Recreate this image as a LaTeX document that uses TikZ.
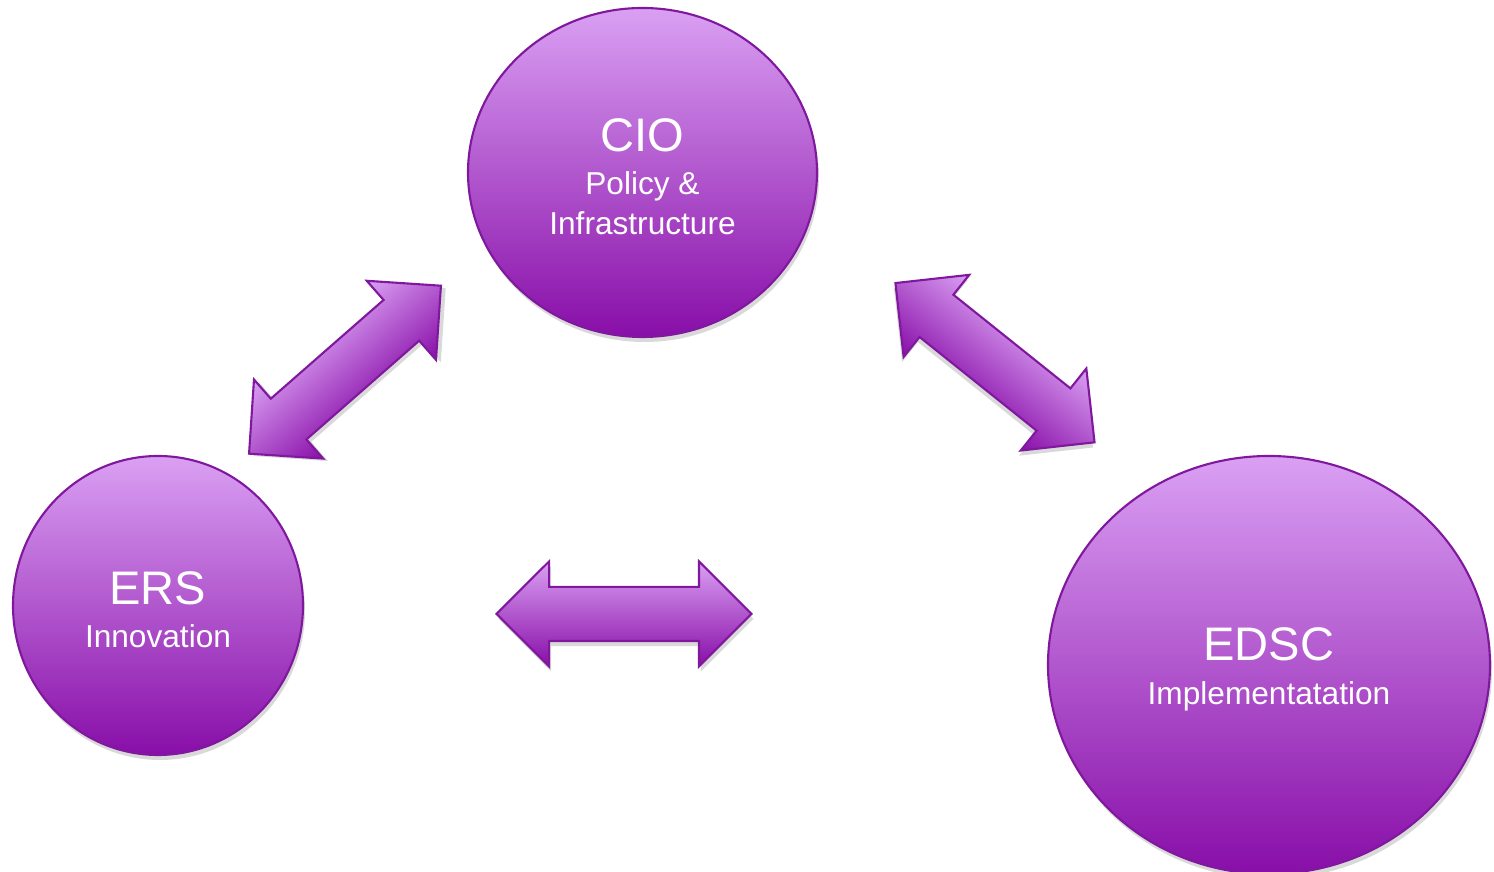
\documentclass[tikz,border=0pt]{standalone}
\usepackage{fontspec}
\setmainfont{Liberation Sans}
\usepackage{tikz}
\usetikzlibrary{shapes.geometric}
\usetikzlibrary{shapes.arrows}
\usetikzlibrary{shadows}
\definecolor{orchidtop}{RGB}{218, 160, 243}
\definecolor{plumbottom}{RGB}{136, 14, 168}
\definecolor{plumedge}{RGB}{128, 24, 158}
\tikzset{
    unit/.style={ellipse, draw=plumedge, line width=0.6pt, top color=orchidtop, bottom color=plumbottom,
                 text=white, align=center, inner sep=0pt, font=\fontsize{9}{11.3}\selectfont,
                 drop shadow={shadow xshift=0.02cm, shadow yshift=-0.05cm, opacity=0.15, fill=black}},
    link/.style={double arrow, draw=plumedge, line width=0.6pt, top color=orchidtop, bottom color=plumbottom,
                 minimum height=2.55cm, inner xsep=0pt, inner ysep=0.26cm, double arrow head extend=0.255cm,
                 drop shadow={shadow xshift=0.02cm, shadow yshift=-0.05cm, opacity=0.15, fill=black}}
}
\newcommand{\unitname}[1]{{\fontsize{13.4}{16}\selectfont\rule{0pt}{11.8pt}#1}\\[1pt]}
\begin{document}
\begin{tikzpicture}
            % Frame to ensure alignment:
            \useasboundingbox                                                 (0.00, 0.00) rectangle (14.94, 8.72);
            % Units
            \node[unit, minimum width=3.49cm, minimum height=3.29cm] (cio)  at ( 6.425, 6.995) {\unitname{CIO}Policy \&\\Infrastructure};
            \node[unit, minimum width=2.90cm, minimum height=2.99cm] (ers)  at ( 1.580, 2.665) {\unitname{ERS}Innovation};
            \node[unit, minimum width=4.42cm, minimum height=4.18cm] (edsc) at (12.690, 2.070) {\unitname{EDSC}Implementatation};
            % Links (canvas turned, so that the shading turns with them)
            \begin{scope}[transform canvas={shift={(3.450, 5.023)}, rotate= 41.20}]
                \node[link] (ers-cio)  at (0, 0) {};
            \end{scope}
            \begin{scope}[transform canvas={shift={(9.950, 5.093)}, rotate=-38.66}]
                \node[link] (cio-edsc) at (0, 0) {};
            \end{scope}
            \node[link]     (ers-edsc) at ( 6.240, 2.580) {};
\end{tikzpicture}
\end{document}
